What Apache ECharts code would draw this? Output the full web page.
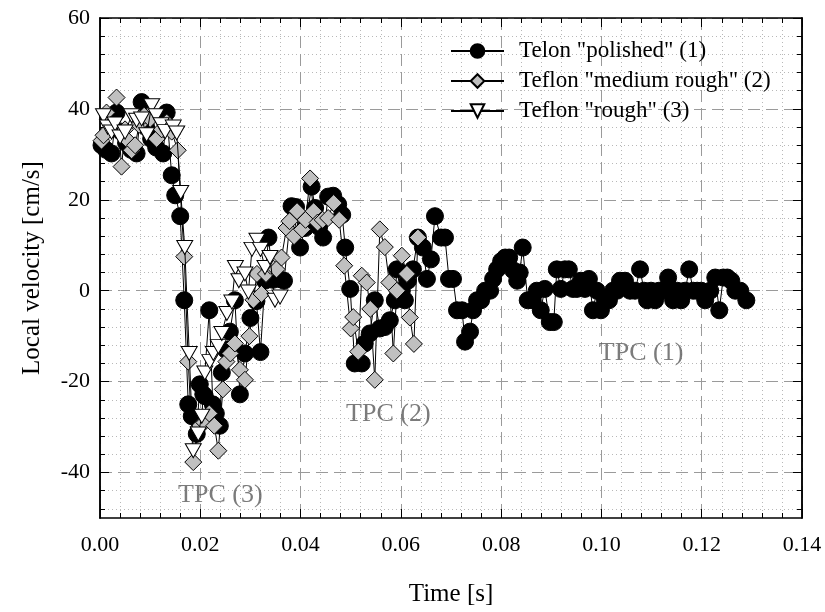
<!DOCTYPE html>
<html>
<head>
<meta charset="utf-8">
<script src="https://cdn.jsdelivr.net/npm/echarts@6/dist/echarts.min.js"></script>
<style>
  html, body { margin: 0; padding: 0; background: #fff; }
  #chart { width: 825px; height: 612px; }
</style>
</head>
<body>
<div id="chart"></div>
<script>
// Local velocity measurements: [time (s), velocity (cm/s)]
const polished = [
  [0.0003,32.0],[0.0012,31.0],[0.0023,30.2],[0.0033,39.2],[0.0042,35.0],[0.0052,32.5],[0.0062,31.0],
  [0.0073,30.2],[0.0083,41.5],[0.0092,36.0],[0.0102,33.4],[0.0112,31.5],[0.0126,30.2],[0.0133,39.2],
  [0.0143,25.4],[0.0150,21.0],[0.0160,16.4],[0.0168,-2.1],[0.0176,-25.0],[0.0183,-27.6],[0.0193,-31.5],
  [0.0199,-20.6],[0.0206,-22.8],[0.0209,-23.2],[0.0218,-4.3],[0.0225,-25.0],[0.0231,-27.0],[0.0239,-29.7],
  [0.0243,-18.0],[0.0251,-13.0],[0.0259,-9.0],[0.0269,-2.1],[0.0279,-22.8],[0.0289,-13.8],[0.0300,-6.0],
  [0.0312,-2.3],[0.0320,-13.5],[0.0329,2.2],[0.0336,11.7],[0.0345,2.4],[0.0357,2.6],[0.0367,2.2],
  [0.0382,18.6],[0.0391,18.4],[0.0399,9.5],[0.0409,13.8],[0.0422,22.9],[0.0429,18.2],[0.0437,14.0],
  [0.0445,11.7],[0.0455,20.7],[0.0465,20.9],[0.0475,19.0],[0.0483,16.7],[0.0489,9.5],[0.0499,0.4],
  [0.0508,-16.0],[0.0522,-16.0],[0.0528,-11.6],[0.0538,-9.4],[0.0548,-2.1],[0.0558,-8.3],[0.0568,-8.0],
  [0.0578,-6.5],[0.0588,-2.1],[0.0592,4.7],[0.0602,0.0],[0.0608,-2.1],[0.0614,2.2],[0.0624,4.7],
  [0.0634,11.7],[0.0644,9.5],[0.0652,2.6],[0.0660,6.9],[0.0668,16.4],[0.0680,11.7],[0.0688,11.7],
  [0.0696,2.6],[0.0704,2.6],[0.0712,-4.3],[0.0722,-4.3],[0.0728,-11.2],[0.0738,-9.0],[0.0744,-4.3],
  [0.0752,-2.1],[0.0760,-2.1],[0.0768,0.0],[0.0778,0.0],[0.0784,2.6],[0.0792,4.7],[0.0800,6.5],
  [0.0808,7.3],[0.0816,7.3],[0.0824,4.5],[0.0832,2.2],[0.0837,4.0],[0.0843,9.5],[0.0853,-2.1],
  [0.0863,-2.1],[0.0871,0.0],[0.0879,-4.3],[0.0887,0.4],[0.0897,-6.9],[0.0905,-6.9],[0.0911,4.7],
  [0.0919,0.4],[0.0927,4.7],[0.0935,4.7],[0.0943,0.4],[0.0951,0.4],[0.0959,2.2],[0.0967,0.4],
  [0.0975,2.6],[0.0983,-4.3],[0.0991,0.0],[0.0999,-4.3],[0.1007,-2.1],[0.1015,-2.1],[0.1023,0.0],
  [0.1031,0.0],[0.1037,2.2],[0.1047,2.2],[0.1057,0.0],[0.1067,0.0],[0.1077,4.7],[0.1085,0.0],
  [0.1091,-2.1],[0.1099,0.0],[0.1107,-2.1],[0.1115,0.0],[0.1123,0.0],[0.1133,2.9],[0.1143,-2.1],
  [0.1151,0.0],[0.1159,-2.1],[0.1167,0.0],[0.1175,4.7],[0.1183,0.0],[0.1191,0.0],[0.1199,0.0],
  [0.1207,-2.1],[0.1217,0.0],[0.1227,2.9],[0.1235,-4.3],[0.1243,2.9],[0.1251,2.9],[0.1259,2.2],
  [0.1267,0.0],[0.1277,0.0],[0.1289,-2.1]
];

const mediumRough = [
  [0.0003,33.0],[0.0007,34.2],[0.0013,39.2],[0.0022,36.5],[0.0033,42.5],[0.0043,27.3],[0.0050,35.5],
  [0.0056,33.0],[0.0063,30.9],[0.0070,32.0],[0.0078,36.5],[0.0088,38.5],[0.0100,37.8],[0.0113,33.4],
  [0.0123,35.5],[0.0133,37.0],[0.0143,35.0],[0.0155,30.9],[0.0168,7.5],[0.0176,-15.6],[0.0186,-37.7],
  [0.0197,-30.0],[0.0208,-29.0],[0.0218,-27.0],[0.0228,-29.7],[0.0236,-35.2],[0.0245,-21.7],
  [0.0252,-15.6],[0.0260,-13.8],[0.0269,-11.6],[0.0279,-17.4],[0.0289,-19.6],[0.0298,-10.0],
  [0.0306,-2.0],[0.0313,3.7],[0.0322,-0.7],[0.0331,3.7],[0.0340,5.5],[0.0352,4.7],[0.0362,7.3],
  [0.0372,13.8],[0.0378,15.3],[0.0387,12.0],[0.0393,17.5],[0.0403,13.5],[0.0410,15.6],[0.0419,24.7],
  [0.0426,17.5],[0.0434,15.0],[0.0444,15.6],[0.0455,16.0],[0.0466,19.3],[0.0477,15.6],[0.0487,5.5],
  [0.0500,-8.3],[0.0505,-5.8],[0.0515,-13.4],[0.0522,3.3],[0.0532,1.8],[0.0539,-4.0],[0.0548,-19.6],
  [0.0558,13.5],[0.0568,9.6],[0.0577,1.8],[0.0585,-13.8],[0.0592,0.0],[0.0602,7.7],[0.0612,3.7],
  [0.0618,-5.9],[0.0626,-11.7],[0.0634,11.7]
];

const rough = [
  [0.0007,38.5],[0.0015,36.0],[0.0023,34.9],[0.0030,36.7],[0.0040,33.8],[0.0050,34.9],[0.0063,38.5],
  [0.0073,37.5],[0.0083,37.8],[0.0093,34.3],[0.0103,40.7],[0.0112,38.5],[0.0122,36.5],[0.0130,35.0],
  [0.0146,36.0],[0.0153,34.7],[0.0161,21.6],[0.0169,9.5],[0.0178,-13.8],[0.0186,-35.2],[0.0196,-31.5],
  [0.0203,-27.6],[0.0209,-18.1],[0.0219,-15.6],[0.0226,-13.8],[0.0236,-12.3],[0.0243,-9.4],
  [0.0253,-5.0],[0.0263,-2.5],[0.0270,5.1],[0.0277,2.2],[0.0289,3.7],[0.0296,-0.3],[0.0303,9.1],
  [0.0313,11.1],[0.0320,9.1],[0.0329,5.1],[0.0339,7.3],[0.0349,-2.1],[0.0359,-1.4]
];

// Region labels placed in data coordinates: [time, velocity, text]
const regionLabels = [
  [0.0240, -45.0, 'TPC (3)'],
  [0.0575, -27.1, 'TPC (2)'],
  [0.1079, -13.8, 'TPC (1)']
];

const seriesNames = ['Telon "polished" (1)', 'Teflon "medium rough" (2)', 'Teflon "rough" (3)'];

// Axis ranges and tick positions
const xMin = 0, xMax = 0.14, xStep = 0.02;
const yMin = -50, yMax = 60;
const yMajorTicks = [-40, -20, 0, 20, 40, 60];
const yMinorTicks = [-48, -44, -36, -32, -28, -24, -16, -12, -8, -4, 4, 8, 12, 16, 24, 28, 32, 36, 44, 48, 52, 56];

const SERIF = '"Liberation Serif", "Times New Roman", serif';
const dashed = { color: '#9a9a9a', width: 1, type: [12, 6] };
const dotted = { color: '#b8b8b8', width: 1, type: [1, 3] };
const frame = { show: true, onZero: false, lineStyle: { color: '#000', width: 1.5 } };

const chart = echarts.init(document.getElementById('chart'), null, { renderer: 'canvas' });

function yAxisDef(position, ticks, major, withLabels) {
  return {
    type: 'value', position: position, min: yMin, max: yMax,
    axisLine: frame,
    axisTick: { show: true, inside: true, customValues: ticks, length: major ? 9 : 5,
                lineStyle: { color: '#000', width: 1 } },
    axisLabel: withLabels
      ? { show: true, customValues: ticks, fontFamily: SERIF, fontSize: 22, color: '#000', margin: 10 }
      : { show: false },
    splitLine: position === 'left' ? { show: true, lineStyle: major ? dashed : dotted } : { show: false },
    name: withLabels ? 'Local velocity [cm/s]' : '',
    nameLocation: 'middle', nameGap: 55, nameRotate: 90,
    nameTextStyle: { fontFamily: SERIF, fontSize: 25, color: '#000' }
  };
}

function xAxisDef(position, withLabels) {
  return {
    type: 'value', position: position, min: xMin, max: xMax, interval: xStep,
    axisLine: frame,
    axisTick: { show: true, inside: true, length: 9, lineStyle: { color: '#000', width: 1 } },
    minorTick: { show: true, splitNumber: 5, length: 5, lineStyle: { color: '#000', width: 1 } },
    axisLabel: withLabels
      ? { show: true, fontFamily: SERIF, fontSize: 22, color: '#000', margin: 16,
          formatter: v => v.toFixed(2) }
      : { show: false },
    splitLine: withLabels ? { show: true, lineStyle: dashed } : { show: false },
    minorSplitLine: withLabels ? { show: true, lineStyle: dotted } : { show: false },
    name: withLabels ? 'Time [s]' : '',
    nameLocation: 'middle', nameGap: 64,
    nameTextStyle: { fontFamily: SERIF, fontSize: 25, color: '#000' }
  };
}

const lineCommon = {
  type: 'line', xAxisIndex: 0, yAxisIndex: 0,
  showAllSymbol: true, animation: false,
  lineStyle: { color: '#000', width: 1 },
  emphasis: { disabled: true }
};

chart.setOption({
  animation: false,
  backgroundColor: '#fff',
  grid: { left: 100, right: 23, top: 18, bottom: 89, containLabel: false },
  xAxis: [xAxisDef('bottom', true), xAxisDef('top', false)],
  yAxis: [
    yAxisDef('left', yMinorTicks, false, false),
    yAxisDef('left', yMajorTicks, true, true),
    yAxisDef('right', yMinorTicks, false, false),
    yAxisDef('right', yMajorTicks, true, false)
  ],
  legend: {
    data: seriesNames,
    orient: 'vertical',
    left: 445, top: 34,
    itemWidth: 53, itemHeight: 17, itemGap: 6,
    textStyle: { fontFamily: SERIF, fontSize: 23, color: '#000', lineHeight: 24, padding: [0, 0, 0, 10] },
    backgroundColor: 'transparent',
    selectedMode: false
  },
  series: [
    Object.assign({}, lineCommon, {
      name: seriesNames[0], data: polished, z: 2,
      symbol: 'circle', symbolSize: 17,
      itemStyle: { color: '#000', borderColor: '#000', borderWidth: 1 }
    }),
    Object.assign({}, lineCommon, {
      name: seriesNames[1], data: mediumRough, z: 3,
      symbol: 'diamond', symbolSize: 17,
      itemStyle: { color: '#c0c0c0', borderColor: '#000', borderWidth: 1 }
    }),
    Object.assign({}, lineCommon, {
      name: seriesNames[2], data: rough, z: 4,
      symbol: 'triangle', symbolRotate: 180, symbolSize: [16, 14],
      itemStyle: { color: '#fff', borderColor: '#000', borderWidth: 1 }
    }),
    {
      type: 'scatter', name: 'labels', data: regionLabels, z: 5,
      symbolSize: 1, itemStyle: { color: 'rgba(0,0,0,0)' }, silent: true,
      label: {
        show: true, position: 'inside', formatter: p => p.value[2],
        fontFamily: SERIF, fontSize: 26, color: '#5a5a5a'
      }
    }
  ]
});
</script>
</body>
</html>
